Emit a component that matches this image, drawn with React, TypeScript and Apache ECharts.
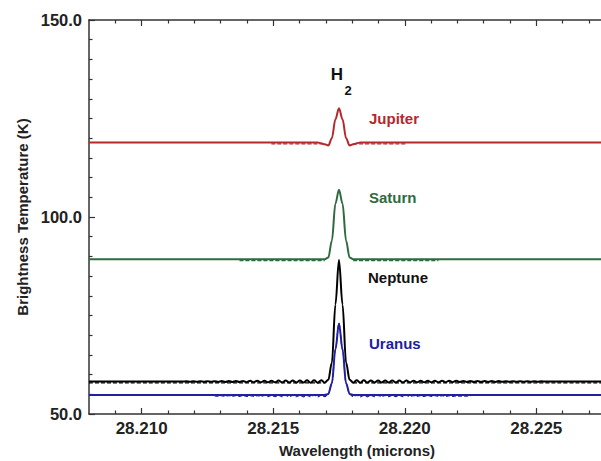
import React, { useEffect, useRef } from "react";
import * as echarts from "echarts";

// ---- axis ranges / ticks ----
const X_MIN = 28.208;
const X_MAX = 28.22837;
const Y_MIN = 50;
const Y_MAX = 150;
const xMajorTicks = [28.21, 28.215, 28.22, 28.225];
const xMinorTicks = [
  28.209, 28.211, 28.212, 28.213, 28.214, 28.216, 28.217, 28.218, 28.219,
  28.221, 28.222, 28.223, 28.224, 28.226, 28.227, 28.228,
];

// spectral sampling grid (wavelength of sample k = GRID_CENTER + k * GRID_STEP)
const GRID_CENTER = 28.2175;
const GRID_STEP = 0.000135;

// ---- Jupiter ----
const jupiterBase = 118.9;
const jupiterStartK = -6;
const jupiterTemps = [118.9, 118.7, 118.45, 118.15, 120.0, 124.8, 127.6, 124.8, 120.0, 118.15, 118.45, 118.7, 118.9];
const jupiterDashLevel = 118.55;
const jupiterDashSpans = [[28.21493, 28.21696], [28.21804, 28.22007]];

// ---- Saturn ----
const saturnBase = 89.3;
const saturnStartK = -4;
const saturnTemps = [89.3, 89.7, 94.0, 103.4, 106.9, 103.4, 94.0, 89.7, 89.3];
const saturnDashLevel = 88.95;
const saturnDashSpans = [[28.21372, 28.21696], [28.21804, 28.22128]];

// ---- Neptune ----
const neptuneBase = 58.25;
const neptuneStartK = -45;
const neptuneTemps = [
  58.27, 58.23, 58.29, 58.21, 58.3, 58.2, 58.31, 58.18, 58.33, 58.17,
  58.34, 58.15, 58.36, 58.14, 58.37, 58.12, 58.39, 58.11, 58.4, 58.09,
  58.42, 58.08, 58.43, 58.06, 58.45, 58.05, 58.46, 58.03, 58.48, 58.02,
  58.49, 58.0, 58.51, 57.99, 58.52, 57.97, 58.54, 57.96, 58.55, 57.95,
  58.56, 57.96, 58.7, 63.0, 77.8, 89.1, 77.8, 63.0, 58.7, 57.96,
  58.55, 57.96, 58.54, 57.97, 58.53, 57.98, 58.52, 57.99, 58.51, 58.0,
  58.5, 58.01, 58.49, 58.02, 58.48, 58.03, 58.47, 58.04, 58.46, 58.05,
  58.45, 58.06, 58.44, 58.07, 58.43, 58.08, 58.42, 58.09, 58.41, 58.1,
  58.4, 58.11, 58.39, 58.12, 58.38, 58.13, 58.37, 58.14, 58.36, 58.15,
  58.35, 58.16, 58.34, 58.17, 58.33, 58.18, 58.32, 58.19, 58.31, 58.2,
  58.3, 58.21, 58.29, 58.25,
];
const neptuneDashLevel = 57.9;
const neptuneDashSpans = [[28.208, 28.21696], [28.21804, 28.22837]];

// ---- Uranus ----
const uranusBase = 54.8;
const uranusStartK = -4;
const uranusTemps = [54.8, 55.1, 57.8, 66.4, 73.0, 66.4, 57.8, 55.1, 54.8];
const uranusDashStartK = -35;
const uranusDashTemps = [
  54.6, 54.5, 54.63, 54.48, 54.64, 54.47, 54.65, 54.46, 54.66, 54.45,
  54.67, 54.44, 54.68, 54.43, 54.69, 54.42, 54.7, 54.41, 54.71, 54.4,
  54.72, 54.39, 54.73, 54.38, 54.74, 54.37, 54.75, 54.36, 54.76, 54.35,
  54.76, 54.4, 55.1, 57.8, 66.4, 73.0, 66.4, 57.8, 55.1, 54.4,
  54.76, 54.36, 54.75, 54.37, 54.74, 54.38, 54.73, 54.39, 54.72, 54.4,
  54.71, 54.41, 54.7, 54.42, 54.69, 54.43, 54.68, 54.44, 54.67, 54.45,
  54.66, 54.46, 54.65, 54.47, 54.64, 54.48, 54.63, 54.49, 54.62, 54.5,
  54.61, 54.51, 54.55,
];

const COLORS = {
  jupiter: "#B5282C",
  saturn: "#2F6B3F",
  neptune: "#000000",
  uranus: "#2020A0",
};

const FONT = '"Liberation Sans", Arial, sans-serif';

const wl = (k: number) => GRID_CENTER + k * GRID_STEP;
const toPoints = (startK: number, temps: number[]) =>
  temps.map((t, i) => [wl(startK + i), t]);
const fullLine = (base: number, startK: number, temps: number[]) => [
  [X_MIN, base],
  ...toPoints(startK, temps),
  [X_MAX, base],
];

function solidSeries(name: string, color: string, data: number[][]) {
  return {
    name,
    type: "line",
    data,
    showSymbol: false,
    symbol: "none",
    smooth: 0.35,
    smoothMonotone: "x",
    lineStyle: { color, width: 2 },
    z: 3,
  };
}
function dashSeries(name: string, color: string, data: number[][]) {
  return {
    name,
    type: "line",
    data,
    showSymbol: false,
    symbol: "none",
    smooth: 0.35,
    smoothMonotone: "x",
    lineStyle: { color, width: 1.2, type: [4, 2] },
    z: 2,
  };
}

export default function App() {
  const ref = useRef<HTMLDivElement>(null);
  useEffect(() => {
    if (!ref.current) return;
    const chart = echarts.init(ref.current, undefined, { renderer: "svg" });
    const axisColor = "#333";
    const labelStyle = { fontFamily: FONT, fontSize: 17, fontWeight: "bold", color: "#222" };
    const nameStyle = { fontFamily: FONT, fontSize: 15, fontWeight: "bold", color: "#222" };

    const series: any[] = [];
    const addSpans = (name: string, color: string, spans: number[][], level: number) =>
      spans.forEach((s, i) => series.push(dashSeries(`${name} dashed ${i}`, color, [[s[0], level], [s[1], level]])));
    addSpans("Jupiter", COLORS.jupiter, jupiterDashSpans, jupiterDashLevel);
    addSpans("Saturn", COLORS.saturn, saturnDashSpans, saturnDashLevel);
    addSpans("Neptune", COLORS.neptune, neptuneDashSpans, neptuneDashLevel);
    series.push(dashSeries("Uranus dashed", COLORS.uranus, toPoints(uranusDashStartK, uranusDashTemps)));
    series.push(solidSeries("Jupiter", COLORS.jupiter, fullLine(jupiterBase, jupiterStartK, jupiterTemps)));
    series.push(solidSeries("Saturn", COLORS.saturn, fullLine(saturnBase, saturnStartK, saturnTemps)));
    series.push(solidSeries("Uranus", COLORS.uranus, fullLine(uranusBase, uranusStartK, uranusTemps)));
    series.push(solidSeries("Neptune", COLORS.neptune, fullLine(neptuneBase, neptuneStartK, neptuneTemps)));

    const baseX = {
      type: "value",
      min: X_MIN,
      max: X_MAX,
      splitLine: { show: false },
    };

    const textEl = (text: string, x: number, y: number, color: string, size = 15) => ({
      type: "text",
      x,
      y,
      style: {
        text,
        fill: color,
        font: `bold ${size}px ${FONT}`,
        align: "left",
        verticalAlign: "middle",
      },
      z: 10,
    });

    chart.setOption({
      animation: false,
      backgroundColor: "#ffffff",
      grid: { left: 89, top: 20, width: 536, height: 394, containLabel: false, outerBoundsMode: "none" },
      xAxis: [
        {
          ...baseX,
          position: "bottom",
          axisLine: { show: true, onZero: false, lineStyle: { color: axisColor, width: 1.5 } },
          axisTick: { show: true, inside: true, length: 6, customValues: xMajorTicks, lineStyle: { color: axisColor, width: 1.2 } },
          axisLabel: { ...labelStyle, margin: 6, customValues: xMajorTicks, formatter: (v: number) => v.toFixed(3) },
          name: "Wavelength (microns)",
          nameLocation: "middle",
          nameGap: 29,
          nameTextStyle: nameStyle,
        },
        {
          ...baseX,
          position: "bottom",
          axisLine: { show: false, onZero: false },
          axisTick: { show: true, inside: true, length: 3.5, customValues: xMinorTicks, lineStyle: { color: axisColor, width: 1.2 } },
          axisLabel: { show: false },
        },
        {
          ...baseX,
          position: "top",
          axisLine: { show: true, onZero: false, lineStyle: { color: axisColor, width: 1.5 } },
          axisTick: { show: true, inside: true, length: 6, customValues: xMajorTicks, lineStyle: { color: axisColor, width: 1.2 } },
          axisLabel: { show: false },
        },
        {
          ...baseX,
          position: "top",
          axisLine: { show: false, onZero: false },
          axisTick: { show: true, inside: true, length: 3.5, customValues: xMinorTicks, lineStyle: { color: axisColor, width: 1.2 } },
          axisLabel: { show: false },
        },
      ],
      yAxis: {
        type: "value",
        min: Y_MIN,
        max: Y_MAX,
        interval: 50,
        position: "left",
        axisLine: { show: true, onZero: false, lineStyle: { color: axisColor, width: 1.5 } },
        axisTick: { show: true, inside: true, length: 6, lineStyle: { color: axisColor, width: 1.2 } },
        minorTick: { show: true, splitNumber: 10, length: 3.5, lineStyle: { color: axisColor, width: 1.2 } },
        axisLabel: { ...labelStyle, fontSize: 16.5, margin: 7, formatter: (v: number) => v.toFixed(1) },
        splitLine: { show: false },
        minorSplitLine: { show: false },
        name: "Brightness Temperature (K)",
        nameLocation: "middle",
        nameGap: 46,
        nameTextStyle: nameStyle,
      },
      series,
      graphic: [
        { type: "text", x: 337, y: 74, style: { text: "H", fill: "#111", font: `bold 17px ${FONT}`, align: "center", verticalAlign: "middle" }, z: 10 },
        { type: "text", x: 348, y: 90.5, style: { text: "2", fill: "#111", font: `bold 13px ${FONT}`, align: "center", verticalAlign: "middle" }, z: 10 },
        textEl("Jupiter", 369, 118, COLORS.jupiter),
        textEl("Saturn", 369, 197, COLORS.saturn),
        textEl("Neptune", 368, 277, "#111"),
        textEl("Uranus", 369, 343, COLORS.uranus),
      ],
    });
    return () => chart.dispose();
  }, []);
  return (
    <div
      ref={ref}
      style={{ position: "fixed", left: 0, top: 0, width: 601, height: 461, background: "#fff" }}
    />
  );
}
